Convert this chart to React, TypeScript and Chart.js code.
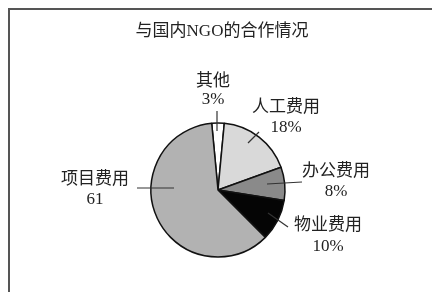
import React, { useEffect, useRef } from "react";
import { Chart, registerables } from "chart.js";

Chart.register(...registerables);

const TITLE = "与国内NGO的合作情况";
const categories = ["其他", "人工费用", "办公费用", "物业费用", "项目费用"];
const values = [3, 18, 8, 10, 61];
const valueLabels = ["3%", "18%", "8%", "10%", "61"];
const sliceColors = ["#ffffff", "#d9d9d9", "#8a8a8a", "#050505", "#b2b2b2"];

// label layout (offsets from pie centre, px at radius 67)
const labelLayout = [
  { line: [-1, -59, -1, -79], text: [-5, -108], value: [-5, -90] },
  { line: [30, -47, 41, -58], text: [68, -82], value: [68, -62] },
  { line: [49, -6, 84, -8], text: [118, -18], value: [118, 2] },
  { line: [50, 23, 70, 37], text: [110, 36], value: [110, 57] },
  { line: [-44, -2, -81, -2], text: [-123, -10], value: [-123, 10] },
];

const FONT = "17px 'Liberation Serif', 'Noto Sans CJK SC', serif";

const decorPlugin = {
  id: "decor",
  beforeDraw(chart: any) {
    const ctx = chart.ctx;
    ctx.save();
    ctx.fillStyle = "#ffffff";
    ctx.fillRect(0, 0, chart.width, chart.height);
    ctx.strokeStyle = "#555555";
    ctx.lineWidth = 2;
    ctx.beginPath();
    ctx.moveTo(chart.width, 9);
    ctx.lineTo(9, 9);
    ctx.lineTo(9, chart.height);
    ctx.stroke();
    ctx.restore();
  },
  afterDraw(chart: any) {
    const ctx = chart.ctx;
    const meta = chart.getDatasetMeta(0);
    const arc = meta.data[0];
    const cx = arc.x;
    const cy = arc.y;
    const s = arc.outerRadius / 67;
    ctx.save();
    ctx.fillStyle = "#222222";
    ctx.font = FONT;
    ctx.textAlign = "center";
    ctx.textBaseline = "middle";
    ctx.fillText(TITLE, cx + 4, 32);
    ctx.strokeStyle = "#333333";
    ctx.lineWidth = 1.2;
    categories.forEach((name, i) => {
      const L = labelLayout[i];
      ctx.beginPath();
      ctx.moveTo(cx + L.line[0] * s, cy + L.line[1] * s);
      ctx.lineTo(cx + L.line[2] * s, cy + L.line[3] * s);
      ctx.stroke();
      ctx.fillText(name, cx + L.text[0] * s, cy + L.text[1] * s);
      ctx.fillText(valueLabels[i], cx + L.value[0] * s, cy + L.value[1] * s);
    });
    ctx.restore();
  },
};

export default function App() {
  const ref = useRef<HTMLCanvasElement>(null);
  useEffect(() => {
    if (!ref.current) return;
    const chart = new Chart(ref.current, {
      type: "pie",
      data: {
        labels: categories,
        datasets: [
          {
            data: values,
            backgroundColor: sliceColors,
            borderColor: "#111111",
            borderWidth: 1.5,
          },
        ],
      },
      options: {
        responsive: false,
        animation: false,
        devicePixelRatio: 1,
        rotation: -5.4,
        radius: 67,
        layout: { padding: { left: 100, right: 96, top: 120, bottom: 32 } },
        plugins: {
          legend: { display: false },
          title: { display: false },
          tooltip: { enabled: false },
        },
      } as any,
      plugins: [decorPlugin],
    });
    return () => chart.destroy();
  }, []);
  return (
    <div style={{ position: "fixed", left: 0, top: 0, width: 432, height: 292, background: "#fff" }}>
      <canvas ref={ref} width={432} height={292} style={{ display: "block", width: 432, height: 292 }} />
    </div>
  );
}
